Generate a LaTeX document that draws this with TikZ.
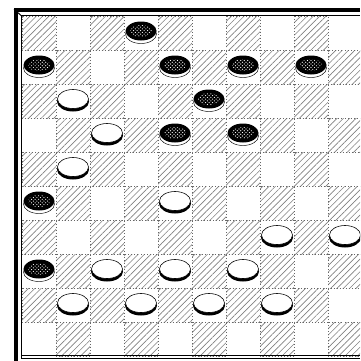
\documentclass[tikz,border=0pt]{standalone}
\usepackage{xcolor}
\usepackage{tikz}
\usetikzlibrary{patterns,patterns.meta}

\begin{document}
\begin{tikzpicture}[x=0.03cm, y=-0.03cm,
		darksq/.style={pattern={Lines[angle=45, distance=3.8pt, line width=0.55pt]}, pattern color=black!50},
		sqedge/.style={draw=black!60, dotted, line width=0.6pt},
		rim/.style={fill=white, draw=black, line width=0.4pt}]
		\useasboundingbox (0,0) rectangle (360,361);
		\clip (0,0) rectangle (360,361);

		% board squares
		\foreach \r in {0,...,9} {
			\foreach \c in {0,...,9} {
				\pgfmathtruncatemacro{\odd}{mod(\r+\c,2)}
				\ifnum\odd=0
					\path[darksq] (22+34*\c,16+34*\r) rectangle ++(34,34);
					\draw[sqedge] (22+34*\c,16+34*\r) rectangle ++(34,34);
				\fi
			}
		}

		% frame
		\draw[line width=3pt] (16,361) -- (16,10) -- (360,10);
		\draw[line width=0.8pt] (14,9) -- (21,15.5);
		\draw[line width=0.7pt] (21,358) -- (21,15.5) -- (360,15.5);
		\draw[line width=0.7pt] (21,355.5) -- (360,355.5);
		\draw[line width=0.5pt] (21,358.5) -- (360,358.5);

		% black men
		\foreach \c/\r in {3/0, 0/1, 4/1, 6/1, 8/1, 5/2, 4/3, 6/3, 0/5, 0/7} {
			\filldraw[rim] (39+34*\c,34+34*\r) ellipse (15.5 and 9.5);
			\fill[black] (39+34*\c,31+34*\r) ellipse (15.5 and 9.5);
			\path[pattern=crosshatch dots, pattern color=white] (39+34*\c,31+34*\r) ellipse (11 and 6);
		}

		% white men
		\foreach \c/\r in {1/2, 2/3, 1/4, 4/5, 7/6, 9/6, 2/7, 4/7, 6/7, 1/8, 3/8, 5/8, 7/8} {
			\fill[black] (39+34*\c,33.5+34*\r) ellipse (16 and 10);
			\filldraw[fill=white, draw=black, line width=0.5pt] (39+34*\c,31+34*\r) ellipse (15.5 and 9.5);
		}
	\end{tikzpicture}
\end{document}
